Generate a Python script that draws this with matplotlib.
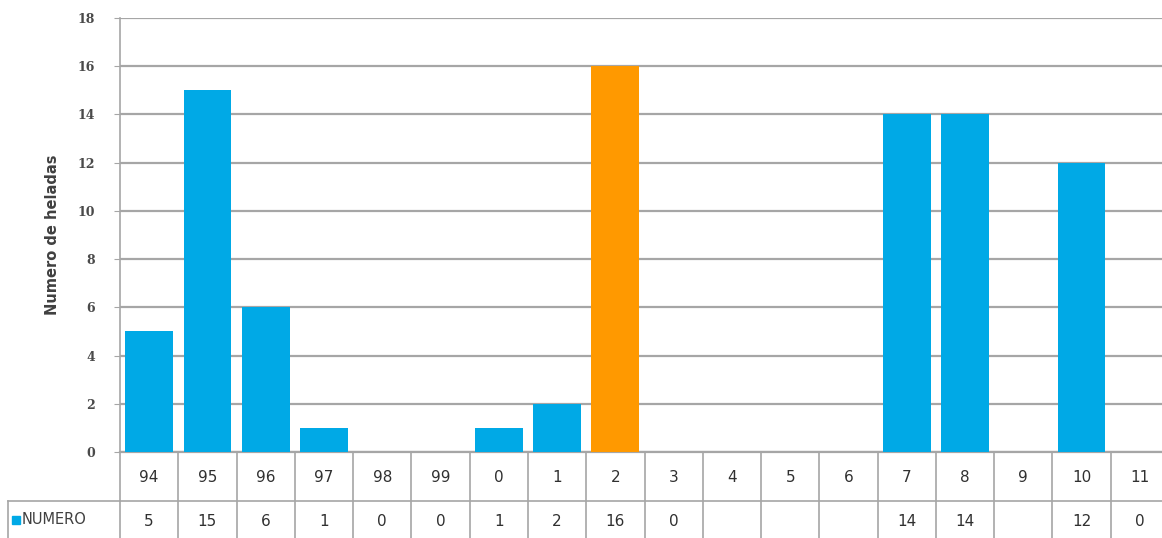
import matplotlib
matplotlib.use("Agg")
import matplotlib.pyplot as plt
from matplotlib.transforms import blended_transform_factory
from matplotlib.lines import Line2D
from matplotlib.patches import Rectangle

# Frost counts per year, 1994-2011
years = ["94", "95", "96", "97", "98", "99", "0", "1", "2", "3",
         "4", "5", "6", "7", "8", "9", "10", "11"]
heladas = [5, 15, 6, 1, 0, 0, 1, 2, 16, 0, None, None, None, 14, 14, None, 12, 0]
highlight_year = "2"

series_name = "NUMERO"
y_label = "Numero de heladas"
y_ticks = [0, 2, 4, 6, 8, 10, 12, 14, 16, 18]

BLUE = "#00A9E6"
ORANGE = "#FF9900"
GRID = "#A6A6A6"

W, H = 1162, 538
fig = plt.figure(figsize=(W / 100, H / 100), dpi=100)
ax_left, ax_right, ax_top, ax_bottom = 120, 1169, 18, 452
ax = fig.add_axes([ax_left / W, 1 - ax_bottom / H,
                   (ax_right - ax_left) / W, (ax_bottom - ax_top) / H])

x = list(range(len(years)))
vals = [v if v is not None else 0 for v in heladas]
colors = [ORANGE if y == highlight_year else BLUE for y in years]
ax.bar(x, vals, width=0.82, color=colors, zorder=3)

ax.set_xlim(-0.5, len(years) - 0.5)
ax.set_ylim(0, 18)
ax.set_yticks(y_ticks)
ax.set_yticklabels([str(t) for t in y_ticks], fontsize=9, color="#4a4a4a",
                   family="DejaVu Serif", fontweight="bold")
ax.tick_params(axis="y", length=4, color=GRID, pad=14)
ax.set_xticks([])
ax.yaxis.grid(True, color=GRID, linewidth=1.6, zorder=0)
for s in ["top", "right"]:
    ax.spines[s].set_visible(False)
ax.spines["left"].set_color(GRID)
ax.spines["left"].set_linewidth(1.2)
ax.spines["bottom"].set_color(GRID)
ax.spines["bottom"].set_linewidth(1.6)

ax.set_ylabel(y_label, fontsize=10.5, fontweight="bold", color="#404040")
ax.yaxis.set_label_coords(-60 / (ax_right - ax_left), 0.5)

# Data table below the plot area
ax_h = ax_bottom - ax_top
def ay(py):
    return -(py - ax_bottom) / ax_h

trans = blended_transform_factory(ax.transData, ax.transAxes)
row1_top, row1_bot, row2_bot = ay(452), ay(501), ay(545)
line_kw = dict(color=GRID, linewidth=1.2, clip_on=False, transform=trans)
for i in range(len(years) + 1):
    xb = i - 0.5
    ax.add_line(Line2D([xb, xb], [row1_top, row2_bot], **line_kw))
ax.add_line(Line2D([-0.5, len(years) - 0.5], [row1_bot, row1_bot], **line_kw))

# Legend key cell of the second row
fig.add_artist(Line2D([8 / W, ax_left / W], [1 - 501 / H, 1 - 501 / H],
                      color=GRID, linewidth=1.2))
fig.add_artist(Line2D([8 / W, 8 / W], [1 - 501 / H, 0], color=GRID, linewidth=1.2))
fig.add_artist(Rectangle((12 / W, 1 - 524 / H), 8 / W, 8 / H, color=BLUE))
fig.text(22 / W, 1 - 520 / H, series_name, fontsize=10.5, color="#404040",
         va="center", ha="left", family="Liberation Sans Narrow")

ymid1 = ay(477)
ymid2 = ay(522)
for i, (yr, v) in enumerate(zip(years, heladas)):
    ax.text(i, ymid1, yr, transform=trans, ha="center", va="center",
            fontsize=11, color="#303030", clip_on=False)
    if v is not None:
        ax.text(i, ymid2, str(v), transform=trans, ha="center", va="center",
                fontsize=11, color="#303030", clip_on=False)

fig.savefig("out.png", dpi=100)
